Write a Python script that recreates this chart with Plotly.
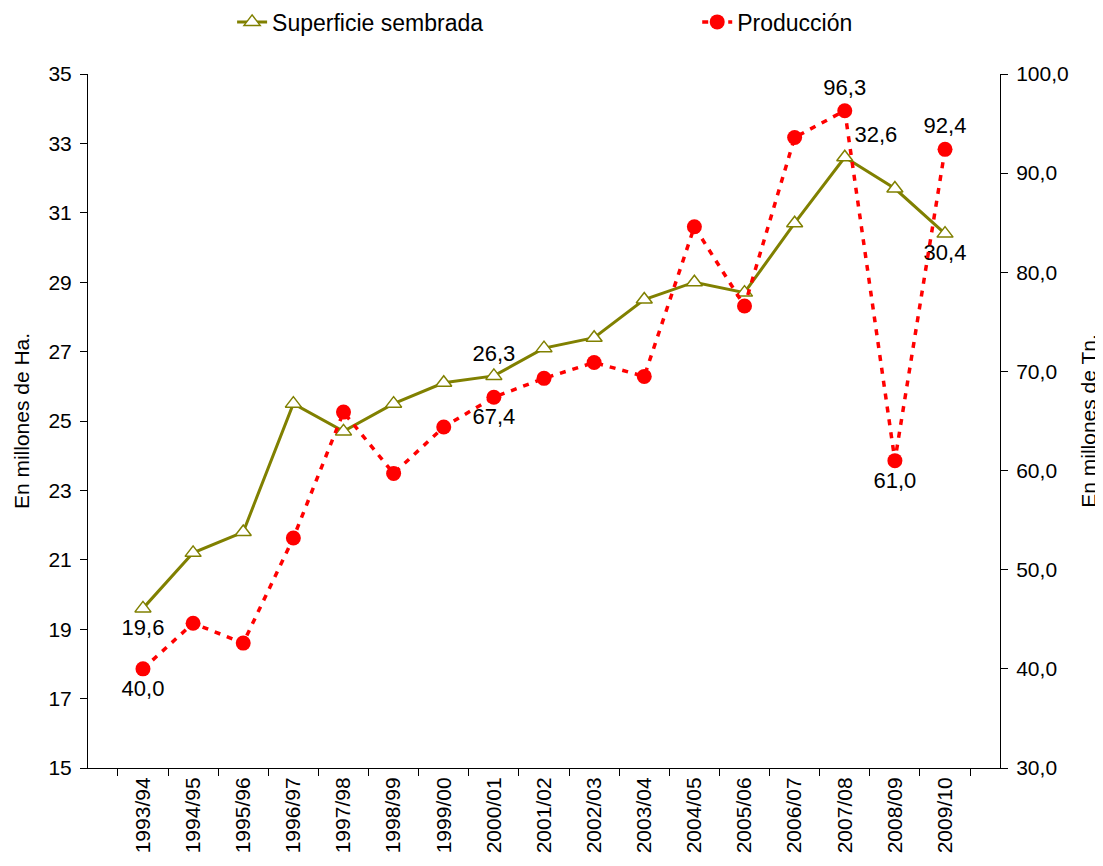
import plotly.graph_objects as go

campanias = ["1993/94", "1994/95", "1995/96", "1996/97", "1997/98", "1998/99", "1999/00",
             "2000/01", "2001/02", "2002/03", "2003/04", "2004/05", "2005/06", "2006/07",
             "2007/08", "2008/09", "2009/10"]
superficie = [19.6, 21.2, 21.8, 25.5, 24.7, 25.5, 26.1, 26.3, 27.1, 27.4, 28.5, 29.0, 28.7,
              30.7, 32.6, 31.7, 30.4]
produccion = [40.0, 44.6, 42.6, 53.2, 65.9, 59.7, 64.4, 67.4, 69.3, 70.9, 69.5, 84.6, 76.6,
              93.6, 96.3, 61.0, 92.4]

# which points carry a value label, and where
sup_labels = {"1993/94": "bottom center", "2000/01": "top center",
              "2007/08": "top right", "2009/10": "bottom center"}
prod_labels = {"1993/94": "bottom center", "2000/01": "bottom center",
               "2007/08": "top center", "2008/09": "bottom center", "2009/10": "top center"}

def fmt(v):
    return f"{v:.1f}".replace(".", ",")

sup_text = [fmt(v) if c in sup_labels else "" for c, v in zip(campanias, superficie)]
sup_pos = [sup_labels.get(c, "top center") for c in campanias]
prod_text = [fmt(v) if c in prod_labels else "" for c, v in zip(campanias, produccion)]
prod_pos = [prod_labels.get(c, "top center") for c in campanias]

FONT = "Liberation Sans, Arial, sans-serif"
OLIVE = "#808000"
RED = "#FF0000"

fig = go.Figure()
fig.add_trace(go.Scatter(
    x=campanias, y=superficie, name="Superficie sembrada",
    mode="lines+markers+text", text=sup_text, textposition=sup_pos,
    textfont=dict(family=FONT, size=22, color="black"),
    line=dict(color=OLIVE, width=3),
    marker=dict(symbol="triangle-up", size=14, color="white",
                line=dict(color=OLIVE, width=1.5)),
    yaxis="y", cliponaxis=False, legend="legend",
))
fig.add_trace(go.Scatter(
    x=campanias, y=produccion, name="Producción",
    mode="lines+markers+text", text=prod_text, textposition=prod_pos,
    textfont=dict(family=FONT, size=22, color="black"),
    line=dict(color=RED, width=3.5, dash="6px,7px"),
    marker=dict(symbol="circle", size=15, color=RED),
    yaxis="y2", cliponaxis=False, legend="legend2",
))

legend_common = dict(orientation="h", yanchor="middle", y=1.075, xanchor="left",
                     font=dict(size=23), bgcolor="rgba(0,0,0,0)")

fig.update_layout(
    width=1095, height=858,
    margin=dict(l=80, r=103, t=66, b=98, autoexpand=False),
    paper_bgcolor="white", plot_bgcolor="white",
    font=dict(family=FONT, size=21, color="black"),
    separators=",.",
    showlegend=True,
    legend=dict(x=0.158, **legend_common),
    legend2=dict(x=0.668, **legend_common),
    xaxis=dict(type="category", showline=True, linecolor="black", linewidth=1,
               ticks="outside", tickson="boundaries", ticklen=7, tickcolor="black",
               tickangle=-90, showgrid=False, zeroline=False,
               tickfont=dict(size=21), automargin=False),
    yaxis=dict(range=[15, 35], tick0=15, dtick=2, showline=True, linecolor="black",
               linewidth=1, ticks="outside", ticklen=7, tickcolor="black", showgrid=False,
               zeroline=False, tickfont=dict(size=21), ticklabelstandoff=4,
               title=dict(text="En millones de Ha.", font=dict(size=21), standoff=13),
               automargin=False),
    yaxis2=dict(range=[30, 100], tick0=30, dtick=10, tickformat=".1f", overlaying="y",
                side="right", showline=True, linecolor="black", linewidth=1,
                ticks="outside", ticklen=7, tickcolor="black", showgrid=False,
                zeroline=False, tickfont=dict(size=21), ticklabelstandoff=4,
                title=dict(text="En millones de Tn.", font=dict(size=21), standoff=13),
                automargin=False),
)

fig.write_html("out.html")
